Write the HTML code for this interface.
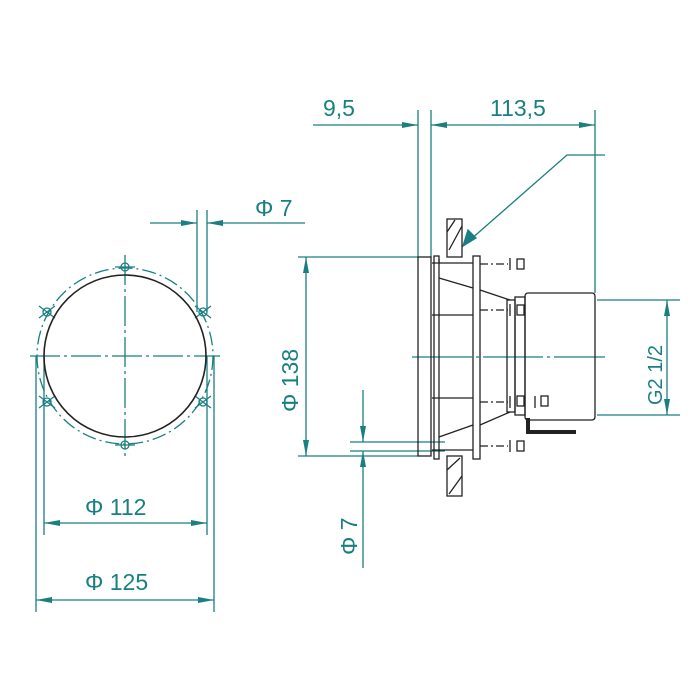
<!DOCTYPE html>
<html><head><style>body{margin:0;background:#fff}svg{display:block}text{font-family:"Liberation Sans",sans-serif;fill:#1a7f80}</style></head><body>
<svg width="700" height="700" viewBox="0 0 700 700" xmlns="http://www.w3.org/2000/svg">
<defs>
<marker id="a" markerWidth="16" markerHeight="8" refX="16" refY="4" orient="auto" markerUnits="userSpaceOnUse"><path d="M0,1 L16,4 L0,7z" fill="#1a7f80"/></marker>
</defs>
<g stroke="#1a7f80" stroke-width="1.3" fill="none">
<!-- left view -->
<circle cx="125" cy="356" r="88" stroke-dasharray="14,4,2,4"/>
<line x1="30" y1="356" x2="220" y2="356" stroke-dasharray="30,4,3,4"/>
<line x1="125" y1="255" x2="125" y2="460" stroke-dasharray="30,4,3,4"/>
<g>
<circle cx="125" cy="267" r="4"/><circle cx="125" cy="445" r="4"/>
<circle cx="47" cy="312" r="4"/><circle cx="203" cy="312" r="4"/>
<circle cx="47" cy="402" r="4"/><circle cx="203" cy="402" r="4"/>
<path d="M115,267h20M115,445h20M39,306l16,12M39,318l16-12M195,306l16,12M195,318l16-12M39,396l16,12M39,408l16-12M195,396l16,12M195,408l16-12"/>
</g>
<!-- phi7 top -->
<line x1="197" y1="210" x2="197" y2="312"/><line x1="207" y1="210" x2="207" y2="312"/>
<line x1="150" y1="223" x2="197" y2="223" marker-end="url(#a)"/>
<line x1="240" y1="223" x2="207" y2="223" marker-end="url(#a)"/>
<line x1="240" y1="223" x2="305" y2="223"/>
<!-- 112 / 125 -->
<line x1="44" y1="356" x2="44" y2="535"/><line x1="207" y1="356" x2="207" y2="535"/>
<line x1="36" y1="356" x2="36" y2="612"/><line x1="214" y1="356" x2="214" y2="612"/>
<line x1="125" y1="523" x2="44" y2="523" marker-end="url(#a)"/><line x1="125" y1="523" x2="207" y2="523" marker-end="url(#a)"/>
<line x1="125" y1="600" x2="36" y2="600" marker-end="url(#a)"/><line x1="125" y1="600" x2="214" y2="600" marker-end="url(#a)"/>
<!-- top dims right -->
<line x1="418" y1="110" x2="418" y2="257"/><line x1="431" y1="110" x2="431" y2="257"/><line x1="595" y1="110" x2="595" y2="293"/>
<line x1="313" y1="125" x2="418" y2="125" marker-end="url(#a)"/>
<line x1="500" y1="125" x2="431" y2="125" marker-end="url(#a)"/>
<line x1="500" y1="125" x2="595" y2="125" marker-end="url(#a)"/>
<polyline points="605,155 567,155 470,240"/>
<path d="M463,246 L468,230 L476,238z" fill="#1a7f80"/>
<!-- 138 -->
<line x1="298" y1="257" x2="418" y2="257"/><line x1="298" y1="456" x2="418" y2="456"/>
<line x1="306" y1="356" x2="306" y2="257" marker-end="url(#a)"/><line x1="306" y1="356" x2="306" y2="456" marker-end="url(#a)"/>
<line x1="412" y1="357" x2="605" y2="357" stroke-dasharray="60,4,3,4"/>
<!-- lower phi7 -->
<line x1="350" y1="442" x2="445" y2="442"/><line x1="350" y1="451" x2="445" y2="451"/>
<line x1="363" y1="390" x2="363" y2="442" marker-end="url(#a)"/>
<line x1="363" y1="568" x2="363" y2="451" marker-end="url(#a)"/>
<!-- G2 -->
<line x1="597" y1="300" x2="680" y2="300"/><line x1="597" y1="415" x2="680" y2="415"/>
<line x1="667" y1="357" x2="667" y2="300" marker-end="url(#a)"/><line x1="667" y1="357" x2="667" y2="415" marker-end="url(#a)"/>
</g>
<!-- black geometry -->
<g stroke="#222" stroke-width="1.3" fill="none">
<circle cx="125" cy="356" r="81" stroke-width="1.6"/>
<rect x="418" y="257" width="13" height="199"/>
<rect x="447" y="219" width="15" height="38"/><rect x="447" y="456" width="15" height="40"/>
<path d="M447,232 L455,220 M449,250 L462,226 M447,470 L460,458 M449,494 L462,476"/>
<rect x="434" y="256" width="5" height="203"/>
<rect x="473" y="256" width="7" height="203"/>
<path d="M432,263h41M432,315h41M432,398h41M432,450h41M439,263v-4M439,278L473,288M439,437L473,425M480,290L510,300M480,425L510,412"/>
<rect x="507" y="300" width="8" height="112"/><rect x="515" y="297" width="10" height="118"/>
<rect x="525" y="293" width="70" height="127" rx="3"/>
<path d="M480,264h28M480,310h28M480,402h28M480,446h28" stroke-dasharray="8,3,2,3"/>
<path d="M510,258v12M510,304v12M510,396v12M510,440v12M535,396v12"/>
<rect x="517" y="259" width="7" height="10"/><rect x="517" y="305" width="7" height="10"/><rect x="517" y="396" width="7" height="10"/><rect x="541" y="396" width="7" height="10"/><rect x="517" y="441" width="7" height="10"/>
<path d="M528,418v14h48" stroke-width="4"/>
</g>
<g font-size="23">
<text x="323" y="116">9,5</text>
<text x="490" y="116">113,5</text>
<text x="255" y="216">Φ 7</text>
<text x="85" y="515">Φ 112</text>
<text x="85" y="590">Φ 125</text>
<text transform="translate(298,412) rotate(-90)">Φ 138</text>
<text transform="translate(357,555) rotate(-90)">Φ 7</text>
<text transform="translate(662,405) rotate(-90)" font-size="20">G2 1/2</text>
</g>
</svg>
</body></html>
